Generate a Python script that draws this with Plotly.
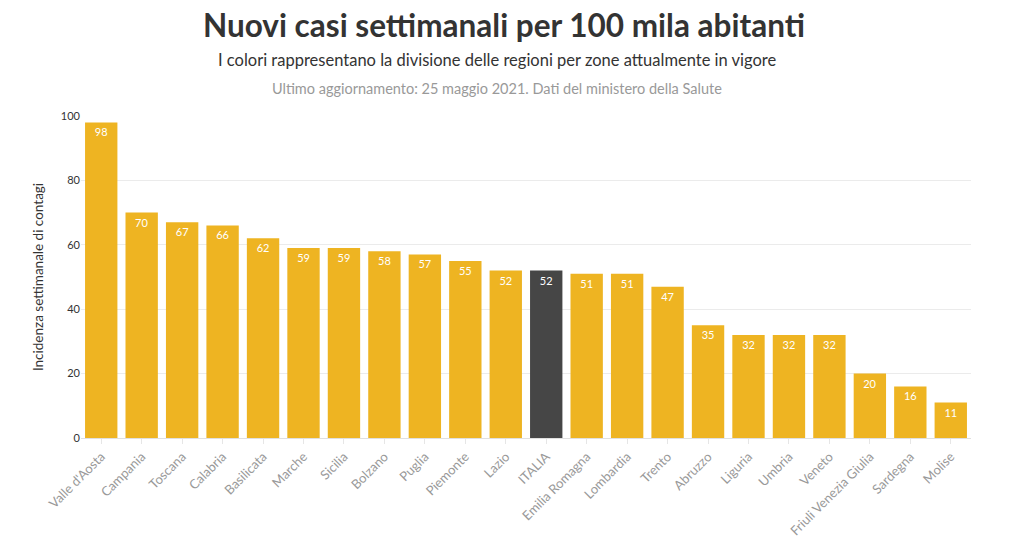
import plotly.graph_objects as go

regions = ["Valle d'Aosta", "Campania", "Toscana", "Calabria", "Basilicata", "Marche", "Sicilia",
           "Bolzano", "Puglia", "Piemonte", "Lazio", "ITALIA", "Emilia Romagna", "Lombardia",
           "Trento", "Abruzzo", "Liguria", "Umbria", "Veneto", "Friuli Venezia Giulia",
           "Sardegna", "Molise"]
values = [98, 70, 67, 66, 62, 59, 59, 58, 57, 55, 52, 52, 51, 51, 47, 35, 32, 32, 32, 20, 16, 11]
y_ticks = [0, 20, 40, 60, 80, 100]

YELLOW = "#EEB422"
DARK = "#464646"
colors = [DARK if r == "ITALIA" else YELLOW for r in regions]

FONT = "Lato, 'Open Sans', sans-serif"

fig = go.Figure(go.Bar(
    x=regions, y=values, marker=dict(color=colors, line=dict(width=0)),
    text=[str(v) for v in values], textposition="inside", insidetextanchor="end",
    textfont=dict(color="white", size=11, family=FONT), textangle=0,
    cliponaxis=False, hoverinfo="x+y",
))

fig.update_layout(
    width=1013, height=542,
    margin=dict(l=81, r=42, t=116, b=104),
    paper_bgcolor="white", plot_bgcolor="white",
    bargap=0.2, showlegend=False,
    font=dict(family=FONT, color="#333"),
    uniformtext=dict(minsize=8, mode="show"),
)

fig.update_yaxes(
    range=[0, 100], tickvals=y_ticks, showgrid=True, gridcolor="#EBEBEB", gridwidth=1,
    zeroline=True, zerolinecolor="#E0E0E0", zerolinewidth=1, automargin=False,
    tickfont=dict(size=11, color="#333"), ticks="", ticklen=0,
    title=dict(text="Incidenza settimanale di contagi", font=dict(size=13.5, color="#333"), standoff=14),
)
fig.update_xaxes(
    tickangle=-45, tickfont=dict(size=13, color="#999"), showgrid=False, automargin=False,
    ticks="outside", ticklen=5, tickcolor="#E6E6E6", showline=False,
)

fig.add_annotation(text="<b>Nuovi casi settimanali per 100 mila abitanti</b>",
                   xref="paper", yref="paper", x=(504 - 81) / 890, xanchor="center",
                   y=(438 - 25) / 322, yanchor="middle", showarrow=False,
                   font=dict(size=31.5, color="#333", family=FONT))
fig.add_annotation(text="I colori rappresentano la divisione delle regioni per zone attualmente in vigore",
                   xref="paper", yref="paper", x=(497 - 81) / 890, xanchor="center",
                   y=(438 - 60) / 322, yanchor="middle", showarrow=False,
                   font=dict(size=16.5, color="#333", family=FONT))
fig.add_annotation(text="Ultimo aggiornamento: 25 maggio 2021. Dati del ministero della Salute",
                   xref="paper", yref="paper", x=(497 - 81) / 890, xanchor="center",
                   y=(438 - 88) / 322, yanchor="middle", showarrow=False,
                   font=dict(size=14.5, color="#999", family=FONT))

fig.write_html("out.html")
